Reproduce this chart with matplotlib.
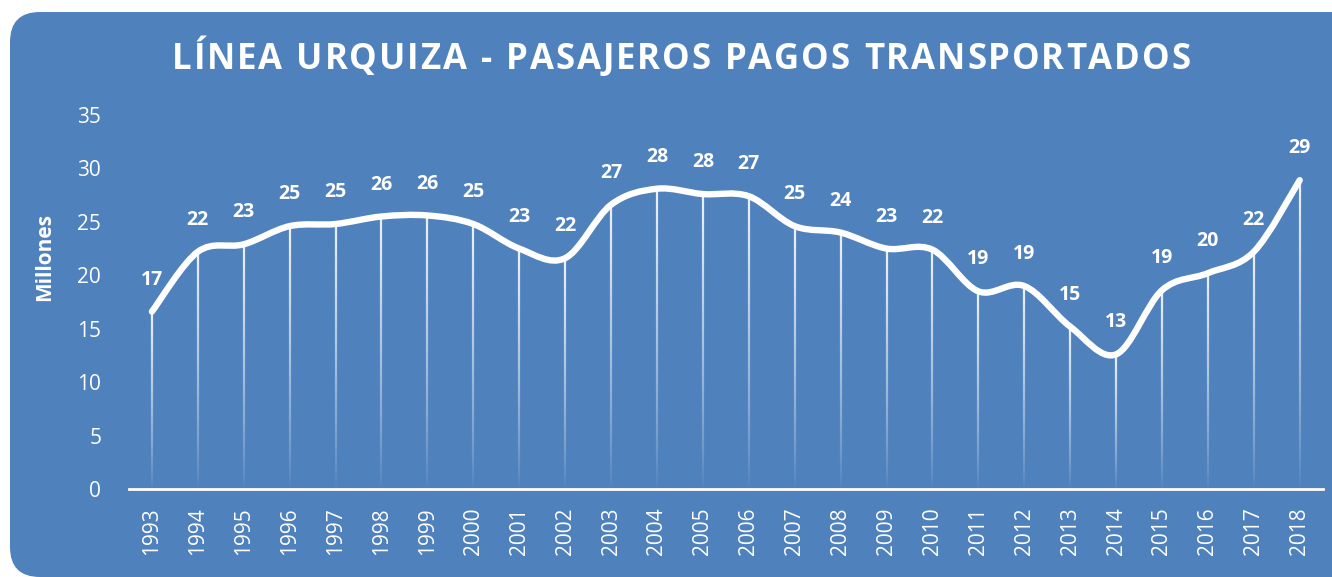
import numpy as np
import matplotlib
matplotlib.use("Agg")
import matplotlib.pyplot as plt
from matplotlib.patches import FancyBboxPatch, PathPatch
from matplotlib.path import Path
from matplotlib.collections import LineCollection

# ── data ───────────────────────────────────────────────────────────────────
years = list(range(1993, 2019))
passengers = [16.6, 22.2, 22.9, 24.6, 24.8, 25.5, 25.6, 24.8, 22.5, 21.6,
              26.6, 28.1, 27.6, 27.4, 24.6, 24.0, 22.5, 22.4, 18.5, 19.0,
              15.2, 12.6, 18.6, 20.2, 22.2, 28.9]
labels = ["17", "22", "23", "25", "25", "26", "26", "25", "23", "22",
          "27", "28", "28", "27", "25", "24", "23", "22", "19", "19",
          "15", "13", "19", "20", "22", "29"]

TITLE = "LÍNEA URQUIZA - PASAJEROS PAGOS TRANSPORTADOS"
BG = "#4F81BD"
FONT = "Open Sans"

plt.rcParams["font.family"] = [FONT, "DejaVu Sans"]

fig = plt.figure(figsize=(13.32, 5.77), dpi=100)
fig.patch.set_facecolor("white")

# rounded blue panel (inches, so corners stay round)
panel = FancyBboxPatch((0.10, 0.0), 13.6, 5.65,
                       boxstyle="round,pad=0,rounding_size=0.3",
                       transform=fig.dpi_scale_trans,
                       facecolor=BG, edgecolor="none", zorder=-10)
fig.patches.append(panel)

ax = fig.add_axes([0.0968, 0.1525, 0.8962, 0.6482], zorder=1)
ax.patch.set_alpha(0)
x = np.arange(len(years))
y = np.array(passengers)

# ── drop lines fading towards the axis ────────────────────────────────────
n = 60
for xi, yi in zip(x, y):
    ys = np.linspace(0, yi, n + 1)
    segs = [[(xi, ys[k]), (xi, ys[k + 1])] for k in range(n)]
    frac = (np.arange(n) + 0.5) / n
    cols = [(1, 1, 1, 0.9 * f ** 0.8) for f in frac]
    ax.add_collection(LineCollection(segs, colors=cols, linewidths=1.6,
                                     capstyle="butt", zorder=2))

# ── smoothed line (Catmull-Rom as cubic Bezier) ───────────────────────────
pts = np.column_stack([x, y])
verts = [pts[0]]
codes = [Path.MOVETO]
for i in range(len(pts) - 1):
    p0 = pts[i - 1] if i > 0 else pts[i]
    p1, p2 = pts[i], pts[i + 1]
    p3 = pts[i + 2] if i + 2 < len(pts) else pts[i + 1]
    c1 = p1 + (p2 - p0) / 6.0
    c2 = p2 - (p3 - p1) / 6.0
    verts += [c1, c2, p2]
    codes += [Path.CURVE4] * 3
ax.add_patch(PathPatch(Path(verts, codes), facecolor="none", edgecolor="white",
                       lw=4.6, capstyle="round", joinstyle="round", zorder=3))

for xi, yi, lab in zip(x, y, labels):
    ax.annotate(lab, (xi, yi), xytext=(0, 23), textcoords="offset points",
                ha="center", va="center", color="white", fontsize=14,
                fontweight="bold", zorder=4)

# ── axes styling ──────────────────────────────────────────────────────────
ax.set_xlim(-0.5, len(years) - 0.5)
ax.set_ylim(0, 35)
ax.set_yticks(range(0, 36, 5))
ax.set_xticks(x)
ax.set_xticklabels([str(v) for v in years], rotation=90)
ax.tick_params(axis="both", length=0, colors="white", labelsize=15)
ax.tick_params(axis="y", pad=20)
ax.tick_params(axis="x", pad=13)
for s in ["top", "right", "left"]:
    ax.spines[s].set_visible(False)
ax.spines["bottom"].set_color("white")
ax.spines["bottom"].set_linewidth(2)
ax.spines["bottom"].set_zorder(5)

fig.text(45 / 1332, 1 - 257 / 577, "Millones", rotation=90, ha="center",
         va="center", color="white", fontsize=15, fontweight="bold")

# ── title with letter spacing (placed char by char) ───────────────────────
renderer = fig.canvas.get_renderer()
track = 1.9  # extra px between letters
widths = []
for ch in TITLE:
    t = fig.text(0, 0, ch if ch != " " else "n", fontsize=25, fontweight="bold")
    w = t.get_window_extent(renderer).width
    if ch == " ":
        w *= 0.45
    widths.append(w)
    t.remove()
total = sum(widths) + track * (len(TITLE) - 1)
cx, cy = 681, 577 - 60
xpos = cx - total / 2
for ch, w in zip(TITLE, widths):
    if ch != " ":
        fig.text(xpos / 1332, cy / 577, ch, ha="left", va="center",
                 color="white", fontsize=25, fontweight="bold")
    xpos += w + track

fig.savefig("out.png", dpi=100, facecolor="white")
